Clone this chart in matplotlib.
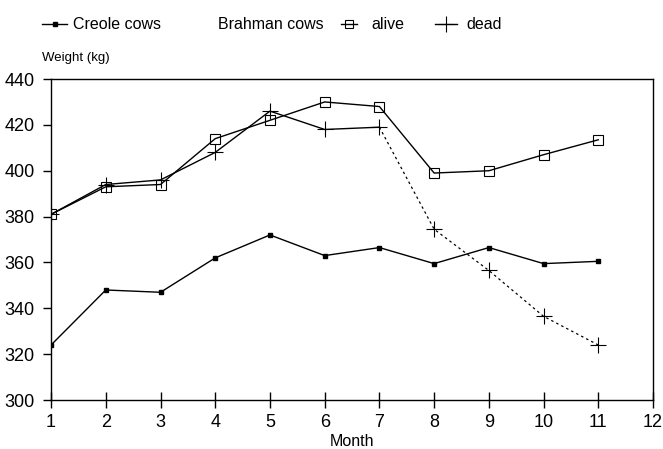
import matplotlib
matplotlib.use("Agg")
import matplotlib.pyplot as plt
from matplotlib.lines import Line2D

months = [1, 2, 3, 4, 5, 6, 7, 8, 9, 10, 11]
creole = [324, 348, 347, 362, 372, 363, 366.5, 359.5, 366.5, 359.5, 360.5]
alive = [381, 393, 394, 414, 422, 430, 428, 399, 400, 407, 413.5]
dead = [381, 394, 396, 408, 426, 418, 419, 374.5, 356.5, 336.5, 324]
dead_split = 7  # month after which dead series is dashed

xticks = list(range(1, 13))
yticks = [300, 320, 340, 360, 380, 400, 420, 440]

plt.rcParams['font.family'] = ['Liberation Sans', 'DejaVu Sans']

fig = plt.figure(figsize=(6.63, 4.49), dpi=100)
ax = fig.add_axes([0.077, 0.109, 0.908, 0.715])

k = months.index(dead_split) + 1
ax.plot(months, creole, color='black', lw=1.0, marker='s', ms=2.2)
ax.plot(months, alive, color='black', lw=1.0, marker='s', ms=7.5, mfc='none', mew=0.8)
ax.plot(months[:k], dead[:k], color='black', lw=1.0, marker='+', ms=11, mew=0.8)
ax.plot(months[k - 1:], dead[k - 1:], color='black', lw=0.9, ls=(0, (2, 2.5)))
ax.plot(months[k:], dead[k:], color='black', lw=0, marker='+', ms=11, mew=0.8)

ax.set_xlim(1, 12)
ax.set_ylim(300, 440)
ax.set_xticks(xticks)
ax.set_yticks(yticks)
ax.tick_params(axis='x', direction='inout', length=12, width=1, labelsize=13, pad=4)
ax.tick_params(axis='y', direction='out', length=6, width=1, labelsize=13, pad=6)
for s in ax.spines.values():
    s.set_linewidth(1.0)
ax.set_xlabel('Month', fontsize=11.5, labelpad=2)
fig.text(0.063, 0.871, 'Weight (kg)', fontsize=9.5, ha='left', va='center')

h_creole = Line2D([], [], color='black', lw=1.0, marker='s', ms=2.2)
h_alive = Line2D([], [], color='black', lw=1.0, marker='s', ms=6, mfc='none', mew=0.8)
h_dead = Line2D([], [], color='black', lw=1.0, marker='+', ms=12, mew=0.8)
fig.legend([h_creole], ['Creole cows'], loc='center left',
           bbox_to_anchor=(0.063, 0.945), frameon=False, fontsize=11.5,
           handlelength=1.6, handletextpad=0.35, borderpad=0, borderaxespad=0)
fig.text(0.329, 0.945, 'Brahman cows', fontsize=11.5, ha='left', va='center')
fig.legend([h_alive], ['alive'], loc='center left',
           bbox_to_anchor=(0.515, 0.945), frameon=False, fontsize=11.5,
           handlelength=1.0, handletextpad=0.9, borderpad=0, borderaxespad=0)
fig.legend([h_dead], ['dead'], loc='center left',
           bbox_to_anchor=(0.656, 0.945), frameon=False, fontsize=11.5,
           handlelength=1.4, handletextpad=0.6, borderpad=0, borderaxespad=0)

fig.savefig('out.png', dpi=100)
